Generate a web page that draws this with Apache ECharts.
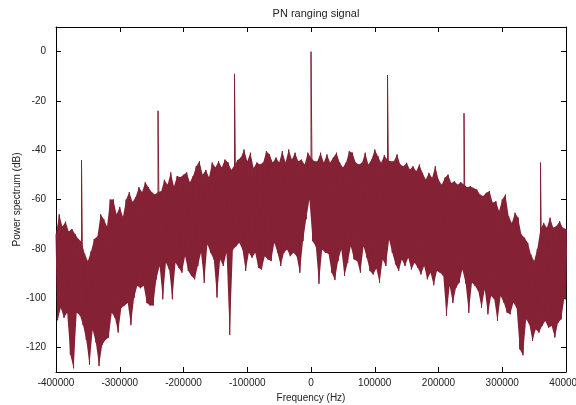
<!DOCTYPE html>
<html>
<head>
<meta charset="utf-8">
<script src="https://cdn.jsdelivr.net/npm/echarts@6/dist/echarts.min.js"></script>
<style>
  html, body { margin: 0; padding: 0; background: #ffffff; }
  #chart { width: 576px; height: 405px; }
</style>
</head>
<body>
<div id="chart"></div>
<script>
// Spectrum bins: each bin starts at startHz + i * binHz and carries
// its highest level (peakDb) and its lowest level (troughDb) in dB.
const startHz = -400000;
const binHz = 5000;

const peakDb = [
  -74, -66, -71, -69, -73, -72, -74, -76, -77, -82,
  -85, -81, -76, -75, -66, -68, -71, -60, -60, -66,
  -63, -67, -60, -57, -61, -59, -55, -57, -53, -55,
  -57, -58, -57, -56.7, -52, -54, -49, -54.6, -50.5, -51,
  -50, -49, -53, -50.5, -46.5, -44.5, -50, -48, -51, -45,
  -47, -44.5, -47, -43.8, -45, -48, -46, -44, -43, -39.7,
  -44.5, -41, -47.2, -45, -45.8, -45, -40.4, -41.7, -45, -43,
  -45, -40.4, -45, -39.7, -43.8, -41, -44.5, -43.8, -45.8, -41,
  -43, -44.5, -44.5, -41, -45, -41.7, -45, -43, -41, -45,
  -47, -45, -40.4, -41, -45, -45.8, -45.1, -41, -45.8, -43.8,
  -39.7, -42.4, -45.1, -42, -44, -44.5, -44.5, -41.7, -45.8, -46.5,
  -45.1, -47.8, -46.5, -48.5, -45.8, -49.2, -51.9, -49.2, -51.2, -46.5,
  -51.9, -54, -51.2, -49.9, -53.3, -52.6, -54, -53, -53.9, -55,
  -54.6, -55.3, -55.9, -58, -58.6, -57.3, -56.6, -61.3, -60.7, -64.7,
  -60, -58, -66.7, -69.5, -65.4, -67.4, -74.2, -75.5, -77.6, -82.3,
  -85, -80, -72, -69.5, -71.5, -67.4, -71.5, -70.8, -68.8, -71.5, -72
];

const troughDb = [
  -109, -104, -108, -106, -123, -128.5, -106, -107, -111, -117,
  -127, -113, -118, -127.6, -119, -117, -116, -106, -108, -114,
  -104, -103, -102, -111, -100, -95, -96, -95, -102, -103,
  -103, -92.4, -87, -100.5, -85.7, -88.4, -100.5, -85.7, -87.7, -89.7,
  -83, -89, -91, -92.4, -87, -81.6, -93.8, -78.2, -81.6, -84.3,
  -99.8, -84.3, -87, -81.6, -115, -80.3, -79, -77.6, -80.3, -89,
  -81.6, -83.6, -81.6, -87.7, -88.4, -83, -84.3, -85, -77.6, -81.6,
  -87, -81.6, -80.3, -83, -81.6, -83, -89.7, -76.9, -68, -60,
  -76.9, -79, -94.2, -80.3, -81.6, -82, -89.7, -92.7, -85, -80.3,
  -91, -85.7, -79, -84.3, -85, -89.7, -79, -83.6, -89, -90.4,
  -88, -93.8, -84.3, -87, -76.3, -81.6, -86.3, -89, -84.3, -87,
  -83.6, -88.4, -85.7, -87.7, -90.4, -87, -92.4, -89.7, -94.8, -89,
  -89.7, -91, -107.3, -95.1, -102, -95.8, -93.8, -88.4, -94, -106,
  -93.8, -95.1, -97.2, -103.9, -96.5, -106.6, -99.2, -100.5, -109.3, -99.2,
  -101.9, -105.9, -106.6, -101.9, -104, -120.8, -123.2, -108.6, -110.7, -117.4,
  -112.7, -114, -111.3, -109.3, -112, -111.3, -116, -110, -108.6, -100, -102
];

// Ranging tones (discrete spectral lines)
const toneHz = [-360000, -240000, -120000, 0, 120000, 240000, 360000];
const toneDb = [-44, -24, -9, 0, -9.5, -25, -45];

// Axis ranges and tick values
const xRange = [-400000, 400000];
const xTickStep = 100000;
const yRange = [-130, 10];
const yTickValues = [-120, -100, -80, -60, -40, -20, 0];

// Trace: within each bin go up to its peak, then down to its trough
const trace = [];
const peakPts = [];
const troughPts = [];
for (let i = 0; i < peakDb.length; i++) {
  const f = startHz + i * binHz;
  trace.push([f, peakDb[i]]);
  const t = toneHz.indexOf(f);
  if (t >= 0) trace.push([f, toneDb[t]]);
  trace.push([f + binHz / 2, troughDb[i]]);
  peakPts.push([f, peakDb[i]]);
  troughPts.push([f + binHz / 2, troughDb[i]]);
}

const ink = '#222222';
const wine = '#852235';
const font = 'Liberation Sans, Arial, Helvetica, sans-serif';

const frameAxis = {
  axisLine: { show: true, onZero: false, lineStyle: { color: '#000', width: 1 } },
  axisTick: { show: true, inside: true, length: 5, lineStyle: { color: '#000', width: 1 } },
  splitLine: { show: false }
};

const chart = echarts.init(document.getElementById('chart'), null, { renderer: 'canvas' });
chart.setOption({
  animation: false,
  backgroundColor: '#ffffff',
  title: {
    text: 'PN ranging signal',
    left: 311,
    top: 3,
    textAlign: 'center',
    textStyle: { fontFamily: font, fontSize: 11, fontWeight: 'normal', color: ink }
  },
  grid: { left: 56, right: 10, top: 27, bottom: 33, outerBoundsMode: 'none', containLabel: false },
  xAxis: [
    Object.assign({
      type: 'value', position: 'bottom',
      min: xRange[0], max: xRange[1], interval: xTickStep,
      name: 'Frequency (Hz)', nameLocation: 'middle', nameGap: 21, nameMoveOverlap: false,
      nameTextStyle: { fontFamily: font, fontSize: 10, color: ink },
      axisLabel: { fontFamily: font, fontSize: 10, color: ink, margin: 6, formatter: v => String(v) }
    }, frameAxis),
    Object.assign({
      type: 'value', position: 'top',
      min: xRange[0], max: xRange[1], interval: xTickStep,
      axisLabel: { show: false }
    }, frameAxis)
  ],
  yAxis: [
    {
      type: 'value', position: 'left',
      min: yRange[0], max: yRange[1],
      name: 'Power spectrum (dB)', nameLocation: 'middle', nameGap: 34, nameMoveOverlap: false,
      nameTextStyle: { fontFamily: font, fontSize: 10, color: ink },
      axisLine: frameAxis.axisLine,
      axisTick: Object.assign({}, frameAxis.axisTick, { customValues: yTickValues }),
      axisLabel: { fontFamily: font, fontSize: 10, color: ink, margin: 10, customValues: yTickValues },
      splitLine: { show: false }
    },
    {
      type: 'value', position: 'right',
      min: yRange[0], max: yRange[1],
      axisLine: frameAxis.axisLine,
      axisTick: Object.assign({}, frameAxis.axisTick, { customValues: yTickValues }),
      axisLabel: { show: false },
      splitLine: { show: false }
    }
  ],
  series: [
    {
      // solid body between the peak and trough levels of every bin
      type: 'custom',
      coordinateSystem: 'cartesian2d',
      silent: true,
      clip: true,
      data: [0],
      renderItem: function (params, api) {
        const pts = peakPts.map(p => api.coord(p))
          .concat(troughPts.slice().reverse().map(p => api.coord(p)));
        return {
          type: 'polygon',
          shape: { points: pts },
          style: { fill: wine, stroke: null }
        };
      }
    },
    {
      type: 'line',
      data: trace,
      showSymbol: false,
      sampling: null,
      clip: true,
      lineStyle: { color: wine, width: 1 },
      emphasis: { disabled: true }
    }
  ]
});
</script>
</body>
</html>
